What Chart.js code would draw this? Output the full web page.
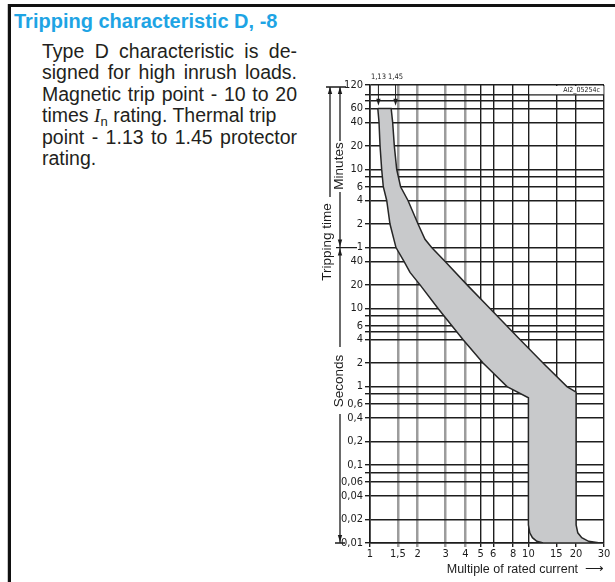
<!DOCTYPE html>
<html>
<head>
<meta charset="utf-8">
<title>Tripping characteristic D</title>
<script src="https://cdn.jsdelivr.net/npm/chart.js@4.4.1/dist/chart.umd.min.js"></script>
<style>
  html, body { margin: 0; padding: 0; background: #fff; }
  body { width: 615px; height: 582px; position: relative; overflow: hidden; font-family: "Liberation Sans", Arial, sans-serif; }
  #frame { position: absolute; left: 8px; top: 4px; width: 620px; height: 600px; border-top: 3px solid #111; border-left: 3px solid #111; box-shadow: -1px 0 0 #c8c8c8; }
  #title { position: absolute; left: 14px; top: 11px; margin: 0; font-size: 20px; line-height: 20px; font-weight: bold; color: #1ea4e4; white-space: nowrap; }
  #text { position: absolute; left: 42px; top: 41px; width: 255px; font-size: 19.5px; line-height: 21.4px; color: #231f20; }
  #text div { text-align: justify; text-align-last: justify; white-space: nowrap; }
  #text div.left { text-align-last: left; }
  #text i { font-family: "Liberation Serif", serif; }
  #text sub { font-size: 13px; line-height: 0; vertical-align: -4px; }
  #chart { position: absolute; left: 300px; top: 60px; }
</style>
</head>
<body>
<div id="frame"></div>
<h1 id="title">Tripping characteristic D, -8</h1>
<div id="text">
  <div>Type D characteristic is de-</div>
  <div>signed for high inrush loads.</div>
  <div>Magnetic trip point - 10 to 20</div>
  <div class="left">times <i>I</i><sub>n</sub> rating. Thermal trip</div>
  <div>point - 1.13 to 1.45 protector</div>
  <div class="left">rating.</div>
</div>
<canvas id="chart" width="315" height="522"></canvas>
<script>
// x axis: multiple of rated current
var xTicks = [1, 1.5, 2, 3, 4, 5, 6, 8, 10, 15, 20, 30];
var xTickLabels = ['1', '1,5', '2', '3', '4', '5', '6', '8', '10', '15', '20', '30'];
var xGreyLines = [1.5, 2, 3, 4];

// y axis: tripping time in seconds (labels switch to minutes from 1 min up)
var yTicks = [0.01, 0.02, 0.04, 0.06, 0.08, 0.1, 0.2, 0.4, 0.6, 0.8, 1, 2, 4, 5, 6, 8, 10, 20, 40,
              60, 120, 240, 360, 480, 600, 1200, 2400, 3600, 4500, 5400, 7200];
var yTickLabels = ['0,01', '0,02', '0,04', '0,06', '', '0,1', '0,2', '0,4', '0,6', '', '1', '2', '4', '', '6', '', '10', '20', '40',
                   '1', '2', '4', '6', '', '10', '20', '40', '60', '', '', '120'];

// thermal trip points marked above the plot
var thermalPoints = [1.13, 1.45];
var thermalLabels = ['1,13', '1,45'];

// edges of the tripping band, read from top to bottom
var lowerCurrent = [1.12, 1.14, 1.157, 1.185, 1.213, 1.275, 1.337, 1.459, 1.639, 1.789, 2.07, 2.69, 3.86, 5.17, 7.33, 10, 10, 10.2, 10.6, 11.3, 12.4];
var lowerTime    = [3600, 2400, 1200, 600, 360, 240, 120, 60, 40, 28.9, 20, 10, 4, 2, 1, 0.72, 0.017, 0.0135, 0.0117, 0.0105, 0.01];
var upperCurrent = [1.36, 1.39, 1.424, 1.474, 1.56, 1.737, 2.01, 2.224, 2.45, 2.97, 4.1, 5.72, 8.84, 12.36, 17.5, 20, 20, 20.5, 21.7, 24, 28.4];
var upperTime    = [3600, 2400, 1200, 600, 360, 240, 120, 76.7, 60, 40, 20, 10, 4, 2, 1, 0.85, 0.017, 0.0135, 0.0117, 0.0105, 0.01];

// closed outline: down the left edge, back up the right edge
var band = [];
lowerCurrent.forEach(function (c, i) { band.push({x: c, y: lowerTime[i]}); });
for (var i = upperCurrent.length - 1; i >= 0; i--) band.push({x: upperCurrent[i], y: upperTime[i]});
band.push(band[0]);

var ink = '#1c1c1c';
var gridInk = '#1e1e1e';
var narrow = '"Liberation Sans Narrow", "DejaVu Sans Condensed", "Liberation Sans", sans-serif';
var tickFont = {family: narrow, size: 11};
var labelFont = '13.5px "Liberation Sans", Arial, sans-serif';

function arrowHead(ctx, x, y, dir) {
  // dir 1 points down, -1 points up, tip at (x, y)
  ctx.beginPath();
  ctx.moveTo(x, y);
  ctx.lineTo(x - 2.2, y - dir * 7);
  ctx.lineTo(x + 2.2, y - dir * 7);
  ctx.closePath();
  ctx.fill();
}

function upText(ctx, text, x, y) {
  ctx.save();
  ctx.translate(x, y);
  ctx.rotate(-Math.PI / 2);
  ctx.textAlign = 'center';
  ctx.textBaseline = 'middle';
  ctx.fillText(text, 0, 0);
  ctx.restore();
}

var annotate = {
  id: 'annotate',
  beforeDatasetsDraw: function (chart) {
    // drawing number box in the top right corner
    var ctx = chart.ctx, a = chart.chartArea, x = chart.scales.x, y = chart.scales.y;
    var bx = x.getPixelForValue(10), by = y.getPixelForValue(5400);
    ctx.save();
    ctx.fillStyle = '#fff';
    ctx.fillRect(bx + 1, a.top + 1, a.right - bx - 1.5, by - a.top - 1.5);
    ctx.fillStyle = ink;
    ctx.font = '7px ' + narrow;
    ctx.textAlign = 'right';
    ctx.textBaseline = 'middle';
    ctx.fillText('AI2_05254c', a.right - 4, (a.top + by) / 2 + 0.5);
    ctx.restore();
  },
  afterDraw: function (chart) {
    var ctx = chart.ctx, a = chart.chartArea, x = chart.scales.x, y = chart.scales.y;
    var top = a.top + 2, bottom = a.bottom, y60 = y.getPixelForValue(60);
    var xo = a.left - 40, xm = a.left - 30;
    ctx.save();
    ctx.strokeStyle = ink;
    ctx.fillStyle = ink;
    ctx.lineWidth = 1.3;
    ctx.beginPath();
    ctx.moveTo(a.left - 44, top); ctx.lineTo(a.left - 24, top);
    ctx.moveTo(xo, top); ctx.lineTo(xo, top + 110);
    ctx.moveTo(xm, top); ctx.lineTo(xm, a.top + 56);
    ctx.moveTo(xm, a.top + 107); ctx.lineTo(xm, y60);
    ctx.moveTo(a.left - 34, y60); ctx.lineTo(a.left - 13, y60);
    ctx.moveTo(xm, y60); ctx.lineTo(xm, a.top + 262);
    ctx.moveTo(xm, a.top + 329); ctx.lineTo(xm, bottom);
    ctx.moveTo(a.left - 35, bottom); ctx.lineTo(a.left - 25, bottom);
    ctx.stroke();
    arrowHead(ctx, xo, top, -1);
    arrowHead(ctx, xm, top, -1);
    arrowHead(ctx, xm, y60 - 1, 1);
    arrowHead(ctx, xm, y60 + 1, -1);
    arrowHead(ctx, xm, bottom - 1, 1);
    ctx.font = labelFont;
    upText(ctx, 'Tripping time', a.left - 43, a.top + 157);
    upText(ctx, 'Minutes', xm - 1, a.top + 81);
    upText(ctx, 'Seconds', xm - 1, a.top + 296);

    // thermal trip markers
    var yArrow = y.getPixelForValue(3900);
    ctx.lineWidth = 1;
    thermalPoints.forEach(function (v) {
      var px = x.getPixelForValue(v);
      ctx.beginPath();
      ctx.moveTo(px, a.top);
      ctx.lineTo(px, yArrow - 5);
      ctx.stroke();
      arrowHead(ctx, px, yArrow, 1);
    });
    ctx.restore();
  }
};

new Chart(document.getElementById('chart'), {
  type: 'scatter',
  data: {
    datasets: [{
      data: band,
      showLine: true,
      fill: 'shape',
      backgroundColor: '#c8c9cb',
      borderColor: '#262626',
      borderWidth: 1.5,
      pointRadius: 0,
      tension: 0
    }]
  },
  options: {
    responsive: false,
    animation: false,
    events: [],
    layout: {padding: {left: 20, right: 11, top: 13, bottom: 4}},
    plugins: {legend: {display: false}, tooltip: {enabled: false}},
    scales: {
      x: {
        type: 'logarithmic', min: 1, max: 30, position: 'bottom',
        afterBuildTicks: function (s) { s.ticks = xTicks.map(function (v) { return {value: v}; }); },
        afterFit: function (s) { s.height = 35; },
        ticks: {autoSkip: false, maxRotation: 0, padding: 1, color: ink, font: tickFont,
                callback: function (v, i) { return xTickLabels[i]; }},
        grid: {
          color: function (c) { return c.tick && xGreyLines.indexOf(c.tick.value) >= 0 ? '#9c9c9c' : gridInk; },
          lineWidth: function (c) { return c.tick && xGreyLines.indexOf(c.tick.value) >= 0 ? 2.5 : 1.4; },
          tickLength: 4
        },
        border: {color: ink, width: 1.6},
        title: {display: true, text: 'Multiple of rated current  \u27F6', align: 'end', color: ink,
                font: {family: '"Liberation Sans", Arial, sans-serif', size: 12.5}, padding: {top: 0, bottom: 1}}
      },
      x2: {
        type: 'logarithmic', min: 1, max: 30, position: 'top',
        afterBuildTicks: function (s) { s.ticks = thermalPoints.map(function (v) { return {value: v}; }); },
        afterFit: function (s) { s.height = 12; },
        ticks: {autoSkip: false, maxRotation: 0, padding: 3, color: ink,
                font: {family: narrow, size: 7.5},
                callback: function (v, i) { return thermalLabels[i]; }},
        grid: {display: false, drawTicks: false},
        border: {display: false}
      },
      y: {
        type: 'logarithmic', min: 0.01, max: 7200, position: 'left',
        afterBuildTicks: function (s) { s.ticks = yTicks.map(function (v) { return {value: v}; }); },
        afterFit: function (s) { s.width = 50; },
        ticks: {autoSkip: false, padding: 2, color: ink, font: tickFont,
                callback: function (v, i) { return yTickLabels[i]; }},
        grid: {color: gridInk, lineWidth: 1.4, tickLength: 5},
        border: {color: ink, width: 1.6}
      }
    }
  },
  plugins: [annotate]
});
</script>
</body>
</html>
